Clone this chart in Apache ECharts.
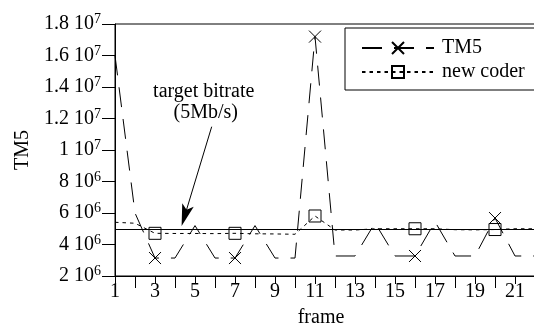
<!DOCTYPE html>
<html><head><meta charset="utf-8">
<script src="https://cdn.jsdelivr.net/npm/echarts@6/dist/echarts.min.js"></script>
<style>html,body{margin:0;padding:0;background:#fff}#c{width:534px;height:329px}</style>
</head><body><div id="c"></div>
<script>
// ---- data ----
const frames = [1,2,3,4,5,6,7,8,9,10,11,12,13,14,15,16,17,18,19,20,21,22];
const tm5Values = [16.0e6, 6.0e6, 3.14e6, 3.14e6, 5.2e6, 3.14e6, 3.14e6, 5.2e6, 3.14e6, 3.14e6, 17.2e6,
                   3.27e6, 3.27e6, 5.37e6, 3.27e6, 3.27e6, 5.45e6, 3.27e6, 3.27e6, 5.68e6, 3.27e6, 3.27e6];
const newCoderValues = [5.41e6, 5.35e6, 4.71e6, 4.70e6, 4.70e6, 4.69e6, 4.71e6, 4.68e6, 4.67e6, 4.65e6, 5.81e6,
                        4.92e6, 4.92e6, 5.0e6, 5.0e6, 5.0e6, 5.0e6, 4.94e6, 4.93e6, 4.95e6, 5.0e6, 5.0e6];
const markerFrames = [3, 7, 11, 16, 20];
const targetBitrate = 5e6;
const arrowFrom = [5.835, 11.48e6];
const arrowTo = [4.49, 5.84e6];
const annotationLines = ['target bitrate', '(5Mb/s)'];
const seriesNames = ['TM5', 'new coder'];
const yMin = 2e6, yMax = 1.8e7, yStep = 2e6;
const xMin = 1, xMax = 22;

const FONT = '"Liberation Serif", "Times New Roman", serif';
const crossPath = 'path://M0,0L10,10M0,10L10,0';
const arrowPath = 'path://M11,0L17,22L11,17L5,22ZM0,0M22,22';

function buildData(vals) {
  return frames.map((f, i) => {
    const item = { value: [f, vals[i]] };
    if (markerFrames.indexOf(f) < 0) item.symbol = 'none';
    return item;
  });
}
function sci(v) {
  const e = v >= 1e7 ? 7 : 6;
  const m = +(v / Math.pow(10, e)).toFixed(1);
  return '{m|' + m + ' 10}{e|' + e + '}';
}

const chart = echarts.init(document.getElementById('c'), null, { renderer: 'canvas' });
chart.setOption({
  animation: false,
  backgroundColor: '#fff',
  grid: { left: 115, top: 24, right: -1, bottom: 53, show: true, borderColor: '#000', borderWidth: 1,
          containLabel: false, outerBoundsMode: 'none' },
  xAxis: [{
    type: 'value', min: xMin, max: xMax, interval: 1,
    splitLine: { show: false },
    axisLine: { show: true, lineStyle: { color: '#000', width: 1 } },
    axisTick: { show: true, length: 8, lineStyle: { color: '#000', width: 1 } },
    axisLabel: { margin: 6, color: '#000', fontFamily: FONT, fontSize: 20, hideOverlap: false,
                 showMinLabel: true, showMaxLabel: true,
                 formatter: v => (v % 2 === 1 && v <= 21) ? String(v) : '' },
    name: 'frame', nameLocation: 'middle', nameGap: 32,
    nameTextStyle: { color: '#000', fontFamily: FONT, fontSize: 20, padding: [0, 8, 0, 0] }
  }, {
    type: 'category', data: frames.map(String), boundaryGap: false, position: 'bottom',
    axisLine: { show: false },
    axisTick: { show: true, length: 12, interval: (i) => i % 2 === 1, lineStyle: { color: '#000', width: 1 } },
    axisLabel: { show: false }, splitLine: { show: false }
  }],
  yAxis: {
    type: 'value', min: yMin, max: yMax, interval: yStep,
    splitLine: { show: false },
    axisLine: { show: true, lineStyle: { color: '#000', width: 1 } },
    axisTick: { show: true, length: 13, lineStyle: { color: '#000', width: 1 } },
    axisLabel: { margin: 14, color: '#000', formatter: sci, hideOverlap: false,
      rich: {
        m: { fontFamily: FONT, fontSize: 20, color: '#000' },
        e: { fontFamily: FONT, fontSize: 14, color: '#000', padding: [0, 0, 9, 0] }
      } },
    name: 'TM5', nameLocation: 'middle', nameGap: 80, nameRotate: 90,
    nameTextStyle: { color: '#000', fontFamily: FONT, fontSize: 20 }
  },
  legend: {
    orient: 'vertical', left: 345, top: 28,
    data: seriesNames,
    itemWidth: 72, itemHeight: 15, itemGap: 4,
    padding: [10, 10, 8, 16],
    borderColor: '#000', borderWidth: 1,
    selectedMode: false,
    textStyle: { fontFamily: FONT, fontSize: 20, color: '#000', padding: [0, 0, 0, 3] }
  },
  graphic: [
    { type: 'text', left: 'center', x: 0, style: {} , invisible: true }
  ],
  series: [{
    name: seriesNames[0], type: 'line', xAxisIndex: 0,
    data: buildData(tm5Values),
    symbol: crossPath, symbolSize: 12, showSymbol: true, showAllSymbol: true,
    itemStyle: { color: 'transparent', borderColor: '#000', borderWidth: 1 },
    lineStyle: { color: '#000', width: 1, type: [20, 12] },
    emphasis: { disabled: true }, z: 3
  }, {
    name: seriesNames[1], type: 'line', xAxisIndex: 0,
    data: buildData(newCoderValues),
    symbol: 'rect', symbolSize: 12, showSymbol: true, showAllSymbol: true,
    itemStyle: { color: 'transparent', borderColor: '#000', borderWidth: 1 },
    lineStyle: { color: '#000', width: 1, type: [3.5, 4] },
    emphasis: { disabled: true }, z: 2,
    markLine: {
      silent: true, animation: false,
      symbol: ['none', 'none'],
      label: { show: false },
      lineStyle: { color: '#000', type: 'solid', width: 1 },
      emphasis: { disabled: true },
      data: [
        { yAxis: targetBitrate },
        [ { coord: arrowFrom, symbol: 'none' },
          { coord: arrowTo, symbol: arrowPath, symbolSize: 22, itemStyle: { color: '#000' } } ]
      ]
    }
  }]
});

// annotation text placed relative to the arrow's start point (data coords)
const p = chart.convertToPixel({ xAxisIndex: 0, yAxisIndex: 0 }, arrowFrom);
chart.setOption({
  graphic: [
    { type: 'text', x: p[0] - 8, y: p[1] - 35, silent: true,
      style: { text: annotationLines[0], font: '20px ' + FONT, fill: '#000', align: 'center', verticalAlign: 'middle' } },
    { type: 'text', x: p[0] - 6, y: p[1] - 14, silent: true,
      style: { text: annotationLines[1], font: '20px ' + FONT, fill: '#000', align: 'center', verticalAlign: 'middle' } }
  ]
}, { replaceMerge: ['graphic'] });
</script></body></html>
